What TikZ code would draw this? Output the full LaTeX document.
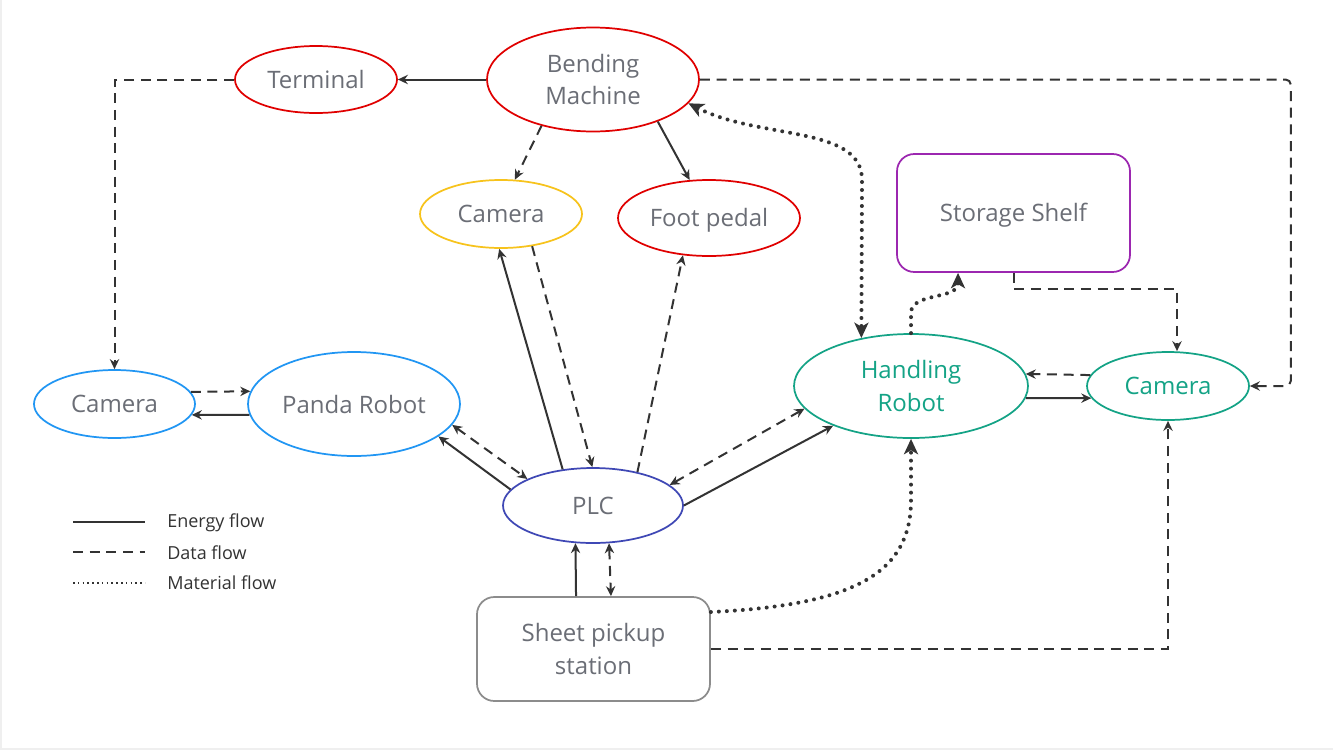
\documentclass[tikz,border=0pt]{standalone}
\usepackage{fontspec}
\setmainfont{Open Sans}
\usetikzlibrary{shapes.geometric,arrows.meta}
\definecolor{txt}{HTML}{6B6E76}
\definecolor{ln}{HTML}{333333}
\definecolor{bred}{HTML}{E00000}
\definecolor{byel}{HTML}{F7C31C}
\definecolor{bblue}{HTML}{2196F3}
\definecolor{bind}{HTML}{3F48B5}
\definecolor{bteal}{HTML}{14A386}
\definecolor{bpur}{HTML}{9C27B0}
\definecolor{bgray}{HTML}{8C8C8C}
\definecolor{frame}{HTML}{EFEFEF}
\tikzset{
  ell/.style={ellipse, draw, line width=1.3pt, inner sep=0pt, text=txt,
    font=\fontsize{18}{24.5}\selectfont, align=center},
  rbox/.style={rectangle, rounded corners=13pt, draw, line width=1.3pt, inner sep=0pt,
    text=txt, font=\fontsize{18}{24.5}\selectfont, align=center},
  nodesc/.style={text height=13.2pt, text depth=0pt},
  tipA/.tip={Stealth[length=7.5pt,width=7pt,inset=2.5pt]},
  tipB/.tip={Stealth[length=11.5pt,width=10.5pt,inset=3pt]},
  con/.style={draw=ln, line width=1.5pt, -tipA},
  conb/.style={draw=ln, line width=1.5pt, tipA-tipA},
  dat/.style={con, dash pattern=on 7.5pt off 5pt},
  datb/.style={conb, dash pattern=on 7.5pt off 5pt},
  mat/.style={draw=ln, line width=3pt, line cap=round, dash pattern=on 0pt off 6pt, -tipB},
  matb/.style={mat, tipB-tipB},
  legtext/.style={anchor=west, inner sep=0pt, text=ln, font=\fontsize{13.5}{16}\selectfont}
}
\begin{document}
\begin{tikzpicture}[x=0.75pt,y=-0.75pt]
\useasboundingbox (0,0) rectangle (1333,750);
\fill[white] (0,0) rectangle (1333,750);
\draw[frame, line width=1.5pt] (1,0) -- (1,748.5) -- (1333,748.5);

% nodes
\node[ell, draw=bred, minimum width=121.5pt, minimum height=50.25pt] (term) at (316,79.5) {Terminal};
\node[ell, draw=bred, minimum width=159pt, minimum height=78pt] (bm) at (593,79.5) {Bending\\Machine};
\node[ell, draw=byel, minimum width=121.5pt, minimum height=51pt] (camY) at (501,214) {Camera};
\node[ell, nodesc, draw=bred, minimum width=136.5pt, minimum height=57pt] (foot) at (709,218) {Foot pedal};
\node[rbox, nodesc, draw=bpur, minimum width=174.75pt, minimum height=88.5pt] (shelf) at (1013.5,213) {Storage Shelf};
\node[ell, draw=bblue, minimum width=120.75pt, minimum height=51pt] (camL) at (114.5,404) {Camera};
\node[ell, draw=bblue, minimum width=159pt, minimum height=78pt] (panda) at (354,404) {Panda Robot};
\node[ell, draw=bind, minimum width=135pt, minimum height=56.25pt] (plc) at (593,505.5) {PLC};
\node[ell, draw=bteal, text=bteal, minimum width=175.5pt, minimum height=78pt] (hr) at (911,386) {Handling\\Robot};
\node[ell, draw=bteal, text=bteal, minimum width=121.5pt, minimum height=51pt] (camR) at (1168,386) {Camera};
\node[rbox, draw=bgray, minimum width=174.75pt, minimum height=78pt] (sheet) at (593.5,649) {Sheet pickup\\station};

% connectors
\draw[con] (bm.west) -- (term.east);
\draw[dat] (term.west) -| (camL.north);
\draw[dat] (bm.-138) -- (camY.68);
\draw[con] (bm.-33) -- (foot.117);
\draw[matb] (bm.-14) .. controls (760,140) and (862,125) .. (862,180) -- (hr.136);
\draw[mat] (hr.north) -- ++(0,-20) .. controls (911,292) and (958,300) .. ([xshift=-41.6pt]shelf.south);
\draw[dat] (shelf.south) -- ++(0,16) -| ([xshift=6.75pt]camR.north);
\draw[dat] (camR.172) -- (hr.6);
\draw[con] (hr.-6) -- (camR.-171);
\draw[dat, rounded corners=4pt] (bm.east) -- ++(591,0) |- (camR.east);
\draw[dat] (camL.9) -- (panda.173);
\draw[con] (panda.-174) -- (camL.-8);
\draw[con] (plc.169) -- (panda.-21);
\draw[datb] (panda.-12) -- (plc.158);
\draw[con] (plc.130) -- (camY.-93);
\draw[dat] (camY.-46) -- (plc.91);
\draw[dat] (plc.37) -- (foot.-125);
\draw[datb] (plc.15) -- (hr.-168);
\draw[con] (plc.east) -- (hr.-153);
\draw[con] ([xshift=-13.1pt]sheet.north) -- (plc.-115);
\draw[datb] (plc.-67) -- ([xshift=13.1pt]sheet.north);
\draw[mat] ([yshift=27.75pt]sheet.east) .. controls (860,605) and (911,570) .. (911,500) -- (hr.south);
\draw[dat] (sheet.east) -| (camR.south);

% legend
\coordinate (l1a) at (73,522); \coordinate (l1b) at (145,522);
\coordinate (l2a) at (73,552); \coordinate (l2b) at (145,552);
\coordinate (l3a) at (73,583); \coordinate (l3b) at (145,583);
\draw[draw=ln, line width=1.5pt] (l1a) -- (l1b);
\draw[draw=ln, line width=1.5pt, dash pattern=on 7.5pt off 5pt] (l2a) -- (l2b);
\draw[draw=ln, line width=1.3pt, dash pattern=on 1.2pt off 2.4pt] (l3a) -- (l3b);
\node[legtext] (leg1) at (167,523) {Energy flow};
\node[legtext] (leg2) at (167,553) {Data flow};
\node[legtext] (leg3) at (167,583) {Material flow};
\end{tikzpicture}
\end{document}
